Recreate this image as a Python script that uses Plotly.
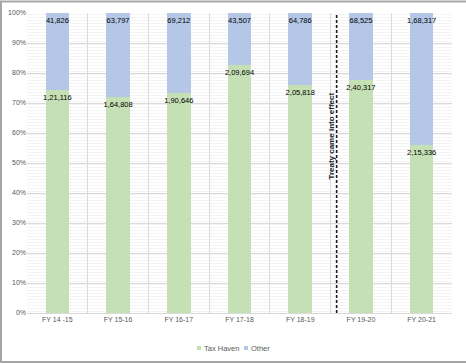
import plotly.graph_objects as go

categories = ["FY 14 -15", "FY 15-16", "FY 16-17", "FY 17-18", "FY 18-19", "FY 19-20", "FY 20-21"]
tax_haven = [121116, 164808, 190646, 209694, 205818, 240317, 215336]
other = [41826, 63797, 69212, 43507, 64786, 68525, 168317]
y_ticks = list(range(0, 101, 10))
series_names = ["Tax Haven", "Other"]


def inr(n):
    s = str(n)
    if len(s) <= 3:
        return s
    last3 = s[-3:]
    rest = s[:-3]
    groups = []
    while len(rest) > 2:
        groups.insert(0, rest[-2:])
        rest = rest[:-2]
    if rest:
        groups.insert(0, rest)
    return ",".join(groups + [last3])


W, H = 466, 364
ML, MR, MT, MB = 27, 14, 13, 51
PW, PH = W - ML - MR, H - MT - MB

GREEN = "#c5e0b4"
BLUE = "#b4c7e7"
FONT = "Liberation Sans Narrow, Arial Narrow, Liberation Sans, Arial"
LABEL_SIZE = 7.5


def px_x(p):
    return (p - ML) / PW


def px_y(p):
    return (H - MB - p) / PH


fig = go.Figure()

# hatched plot-area background (on base axes)
fig.add_trace(go.Bar(
    x=categories, y=[1] * len(categories), width=1,
    marker=dict(color="rgba(0,0,0,0)", line=dict(width=0),
                pattern=dict(shape="-", fgcolor="#e6e6e6", bgcolor="rgba(0,0,0,0)", size=3, solidity=0.3)),
    showlegend=False, hoverinfo="skip", xaxis="x", yaxis="y",
))

label_font = dict(family=FONT, size=LABEL_SIZE, color="#000000")

for name, vals, col in ((series_names[0], tax_haven, GREEN), (series_names[1], other, BLUE)):
    fig.add_trace(go.Bar(
        name=name, x=categories, y=vals, width=0.39,
        marker=dict(color=col, line=dict(width=0)),
        text=[inr(v) for v in vals], textposition="inside", insidetextanchor="end",
        textfont=label_font, textangle=0, showlegend=False,
        xaxis="x2", yaxis="y2",
    ))

tick_font = dict(family=FONT, size=7, color="#595959")

fig.update_layout(
    width=W, height=H,
    margin=dict(l=ML, r=MR, t=MT, b=MB, autoexpand=False),
    paper_bgcolor="white", plot_bgcolor="white",
    barmode="stack", barnorm="percent",
    uniformtext=dict(minsize=LABEL_SIZE, mode="show"),
    xaxis=dict(type="category", range=[-0.5, 6.5], showgrid=True, gridcolor="#d9d9d9", gridwidth=1,
               tickson="boundaries", ticks="", showline=True, linecolor="#d9d9d9", linewidth=1,
               tickfont=tick_font, showticklabels=True, zeroline=False, automargin=False),
    yaxis=dict(range=[0, 100], tickvals=y_ticks, ticktext=[f"{v}%" for v in y_ticks],
               showgrid=True, gridcolor="#d9d9d9", gridwidth=1, zeroline=False,
               tickfont=tick_font, ticks="", showline=False, automargin=False),
    xaxis2=dict(type="category", range=[-0.5, 6.5], overlaying="x", visible=False),
    yaxis2=dict(range=[0, 100], overlaying="y", visible=False),
    showlegend=False,
)

# treaty marker
fig.add_shape(type="line", xref="x", yref="y", x0=4.6, x1=4.6, y0=0, y1=100,
              line=dict(color="#1a1a1a", width=1.6, dash="3px,2px"))
fig.add_annotation(xref="x", yref="y", x=4.5, y=59, text="<b>Treaty came into effect</b>",
                   textangle=-90, showarrow=False,
                   font=dict(family="Liberation Sans, Arial", size=8, color="#262626"))

# legend (swatches + labels)
legend_y = px_y(348)
for name, col, sx in ((series_names[0], GREEN, 199), (series_names[1], BLUE, 246)):
    fig.add_shape(type="rect", xref="paper", yref="paper",
                  x0=px_x(sx - 2), x1=px_x(sx + 2), y0=px_y(350), y1=px_y(346),
                  fillcolor=col, line=dict(width=0))
    fig.add_annotation(xref="paper", yref="paper", x=px_x(sx + 3), y=legend_y,
                       xanchor="left", yanchor="middle", text=name, showarrow=False,
                       font=dict(family=FONT, size=7.5, color="#595959"))

# chart-area border
fig.add_shape(type="rect", xref="paper", yref="paper",
              x0=px_x(1), x1=px_x(W + 5), y0=px_y(H - 2), y1=px_y(1.5),
              line=dict(color="#a6a6a6", width=2), fillcolor="rgba(0,0,0,0)", layer="above")

fig.write_html("out.html", post_script="document.body.style.margin='0';",
               config={"displayModeBar": False})
